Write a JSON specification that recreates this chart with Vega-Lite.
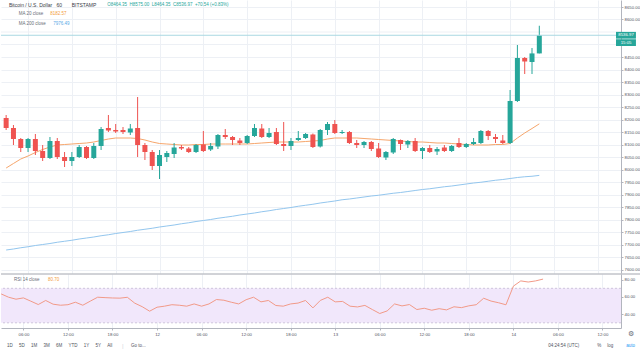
{
  "$schema": "https://vega.github.io/schema/vega-lite/v6.json",
  "padding": 0,
  "background": "white",
  "spacing": 0,
  "config": {
    "view": {"stroke": null},
    "font": "Liberation Sans",
    "axis": {"labelFont": "Liberation Sans", "labelFontSize": 4.3, "labelColor": "#50535e", "gridColor": "#edf0f5", "domainColor": "#b2b5be", "tickColor": "#b2b5be", "tickSize": 2, "labelPadding": 1, "labelOverlap": false, "labelFlush": false, "labelBound": false},
    "text": {"font": "Liberation Sans", "baseline": "middle", "align": "left"}
  },
  "datasets": {
    "bars": [
      {"t":"2020-01-11T03:00:00Z","open":8206,"high":8218,"low":8158,"close":8166,"ma20":8006,"ma200":7678,"rsi":63.5},
      {"t":"2020-01-11T04:00:00Z","open":8166,"high":8178,"low":8098,"close":8122,"ma20":8024,"ma200":7682,"rsi":59.7},
      {"t":"2020-01-11T05:00:00Z","open":8122,"high":8126,"low":8070,"close":8086,"ma20":8042,"ma200":7687,"rsi":57.4},
      {"t":"2020-01-11T06:00:00Z","open":8086,"high":8126,"low":8070,"close":8122,"ma20":8054,"ma200":7691,"rsi":58.9},
      {"t":"2020-01-11T07:00:00Z","open":8122,"high":8142,"low":8058,"close":8074,"ma20":8068,"ma200":7696,"rsi":55.1},
      {"t":"2020-01-11T08:00:00Z","open":8074,"high":8098,"low":8034,"close":8046,"ma20":8080,"ma200":7700,"rsi":51.2},
      {"t":"2020-01-11T09:00:00Z","open":8046,"high":8130,"low":8042,"close":8114,"ma20":8090,"ma200":7704,"rsi":55.9},
      {"t":"2020-01-11T10:00:00Z","open":8114,"high":8126,"low":8042,"close":8050,"ma20":8098,"ma200":7709,"rsi":51.6},
      {"t":"2020-01-11T11:00:00Z","open":8050,"high":8070,"low":8010,"close":8034,"ma20":8100,"ma200":7713,"rsi":50.4},
      {"t":"2020-01-11T12:00:00Z","open":8034,"high":8070,"low":8014,"close":8050,"ma20":8102,"ma200":7717,"rsi":51.0},
      {"t":"2020-01-11T13:00:00Z","open":8050,"high":8098,"low":8046,"close":8090,"ma20":8104,"ma200":7722,"rsi":53.9},
      {"t":"2020-01-11T14:00:00Z","open":8090,"high":8094,"low":8042,"close":8046,"ma20":8106,"ma200":7726,"rsi":50.4},
      {"t":"2020-01-11T15:00:00Z","open":8046,"high":8106,"low":8042,"close":8094,"ma20":8110,"ma200":7730,"rsi":55.1},
      {"t":"2020-01-11T16:00:00Z","open":8094,"high":8170,"low":8078,"close":8162,"ma20":8116,"ma200":7735,"rsi":59.7},
      {"t":"2020-01-11T17:00:00Z","open":8166,"high":8218,"low":8150,"close":8156,"ma20":8122,"ma200":7739,"rsi":59.2},
      {"t":"2020-01-11T18:00:00Z","open":8158,"high":8182,"low":8146,"close":8152,"ma20":8126,"ma200":7744,"rsi":58.8},
      {"t":"2020-01-11T19:00:00Z","open":8158,"high":8170,"low":8142,"close":8150,"ma20":8126,"ma200":7748,"rsi":58.6},
      {"t":"2020-01-11T20:00:00Z","open":8148,"high":8182,"low":8138,"close":8164,"ma20":8126,"ma200":7752,"rsi":59.6},
      {"t":"2020-01-11T21:00:00Z","open":8166,"high":8290,"low":8050,"close":8098,"ma20":8124,"ma200":7757,"rsi":52.8},
      {"t":"2020-01-11T22:00:00Z","open":8098,"high":8106,"low":8038,"close":8070,"ma20":8118,"ma200":7761,"rsi":48.7},
      {"t":"2020-01-11T23:00:00Z","open":8070,"high":8078,"low":7998,"close":8014,"ma20":8110,"ma200":7765,"rsi":43.5},
      {"t":"2020-01-12T00:00:00Z","open":8014,"high":8078,"low":7962,"close":8058,"ma20":8104,"ma200":7770,"rsi":48.1},
      {"t":"2020-01-12T01:00:00Z","open":8050,"high":8074,"low":8030,"close":8066,"ma20":8102,"ma200":7774,"rsi":49.3},
      {"t":"2020-01-12T02:00:00Z","open":8062,"high":8106,"low":8046,"close":8088,"ma20":8100,"ma200":7778,"rsi":51.0},
      {"t":"2020-01-12T03:00:00Z","open":8090,"high":8098,"low":8078,"close":8084,"ma20":8098,"ma200":7783,"rsi":50.4},
      {"t":"2020-01-12T04:00:00Z","open":8084,"high":8090,"low":8066,"close":8070,"ma20":8098,"ma200":7787,"rsi":49.3},
      {"t":"2020-01-12T05:00:00Z","open":8070,"high":8102,"low":8066,"close":8098,"ma20":8100,"ma200":7792,"rsi":51.9},
      {"t":"2020-01-12T06:00:00Z","open":8100,"high":8154,"low":8070,"close":8074,"ma20":8100,"ma200":7796,"rsi":49.3},
      {"t":"2020-01-12T07:00:00Z","open":8080,"high":8106,"low":8074,"close":8094,"ma20":8102,"ma200":7800,"rsi":51.9},
      {"t":"2020-01-12T08:00:00Z","open":8092,"high":8142,"low":8082,"close":8138,"ma20":8102,"ma200":7805,"rsi":57.0},
      {"t":"2020-01-12T09:00:00Z","open":8138,"high":8162,"low":8122,"close":8130,"ma20":8102,"ma200":7809,"rsi":56.2},
      {"t":"2020-01-12T10:00:00Z","open":8130,"high":8134,"low":8098,"close":8118,"ma20":8102,"ma200":7813,"rsi":53.9},
      {"t":"2020-01-12T11:00:00Z","open":8116,"high":8126,"low":8098,"close":8106,"ma20":8102,"ma200":7818,"rsi":51.9},
      {"t":"2020-01-12T12:00:00Z","open":8106,"high":8138,"low":8102,"close":8134,"ma20":8102,"ma200":7822,"rsi":56.8},
      {"t":"2020-01-12T13:00:00Z","open":8134,"high":8182,"low":8130,"close":8166,"ma20":8104,"ma200":7826,"rsi":59.7},
      {"t":"2020-01-12T14:00:00Z","open":8164,"high":8182,"low":8126,"close":8130,"ma20":8106,"ma200":7831,"rsi":54.3},
      {"t":"2020-01-12T15:00:00Z","open":8130,"high":8166,"low":8126,"close":8146,"ma20":8108,"ma200":7835,"rsi":55.9},
      {"t":"2020-01-12T16:00:00Z","open":8150,"high":8166,"low":8098,"close":8102,"ma20":8110,"ma200":7840,"rsi":50.1},
      {"t":"2020-01-12T17:00:00Z","open":8102,"high":8190,"low":8074,"close":8094,"ma20":8110,"ma200":7844,"rsi":49.3},
      {"t":"2020-01-12T18:00:00Z","open":8094,"high":8126,"low":8078,"close":8114,"ma20":8110,"ma200":7848,"rsi":51.9},
      {"t":"2020-01-12T19:00:00Z","open":8118,"high":8154,"low":8114,"close":8126,"ma20":8110,"ma200":7853,"rsi":52.9},
      {"t":"2020-01-12T20:00:00Z","open":8126,"high":8146,"low":8122,"close":8142,"ma20":8112,"ma200":7857,"rsi":55.9},
      {"t":"2020-01-12T21:00:00Z","open":8140,"high":8144,"low":8086,"close":8090,"ma20":8114,"ma200":7861,"rsi":47.3},
      {"t":"2020-01-12T22:00:00Z","open":8092,"high":8162,"low":8088,"close":8158,"ma20":8116,"ma200":7866,"rsi":56.0},
      {"t":"2020-01-12T23:00:00Z","open":8158,"high":8190,"low":8138,"close":8182,"ma20":8122,"ma200":7870,"rsi":59.7},
      {"t":"2020-01-13T00:00:00Z","open":8182,"high":8198,"low":8142,"close":8146,"ma20":8126,"ma200":7874,"rsi":54.3},
      {"t":"2020-01-13T01:00:00Z","open":8146,"high":8158,"low":8142,"close":8150,"ma20":8126,"ma200":7879,"rsi":54.8},
      {"t":"2020-01-13T02:00:00Z","open":8150,"high":8154,"low":8102,"close":8106,"ma20":8126,"ma200":7882,"rsi":49.3},
      {"t":"2020-01-13T03:00:00Z","open":8106,"high":8118,"low":8086,"close":8098,"ma20":8126,"ma200":7886,"rsi":48.4},
      {"t":"2020-01-13T04:00:00Z","open":8098,"high":8114,"low":8086,"close":8110,"ma20":8124,"ma200":7890,"rsi":50.2},
      {"t":"2020-01-13T05:00:00Z","open":8110,"high":8114,"low":8074,"close":8082,"ma20":8122,"ma200":7894,"rsi":45.4},
      {"t":"2020-01-13T06:00:00Z","open":8084,"high":8106,"low":8046,"close":8050,"ma20":8120,"ma200":7897,"rsi":40.8},
      {"t":"2020-01-13T07:00:00Z","open":8048,"high":8074,"low":8038,"close":8070,"ma20":8118,"ma200":7901,"rsi":43.8},
      {"t":"2020-01-13T08:00:00Z","open":8068,"high":8126,"low":8062,"close":8122,"ma20":8116,"ma200":7905,"rsi":51.9},
      {"t":"2020-01-13T09:00:00Z","open":8118,"high":8120,"low":8078,"close":8102,"ma20":8114,"ma200":7908,"rsi":49.6},
      {"t":"2020-01-13T10:00:00Z","open":8100,"high":8118,"low":8086,"close":8114,"ma20":8112,"ma200":7912,"rsi":51.2},
      {"t":"2020-01-13T11:00:00Z","open":8114,"high":8126,"low":8070,"close":8074,"ma20":8110,"ma200":7916,"rsi":45.4},
      {"t":"2020-01-13T12:00:00Z","open":8074,"high":8090,"low":8042,"close":8086,"ma20":8110,"ma200":7920,"rsi":46.9},
      {"t":"2020-01-13T13:00:00Z","open":8086,"high":8098,"low":8066,"close":8070,"ma20":8108,"ma200":7923,"rsi":44.6},
      {"t":"2020-01-13T14:00:00Z","open":8072,"high":8090,"low":8058,"close":8082,"ma20":8106,"ma200":7927,"rsi":46.4},
      {"t":"2020-01-13T15:00:00Z","open":8088,"high":8098,"low":8070,"close":8074,"ma20":8106,"ma200":7931,"rsi":45.0},
      {"t":"2020-01-13T16:00:00Z","open":8074,"high":8098,"low":8070,"close":8094,"ma20":8104,"ma200":7934,"rsi":48.6},
      {"t":"2020-01-13T17:00:00Z","open":8106,"high":8126,"low":8086,"close":8090,"ma20":8102,"ma200":7938,"rsi":47.6},
      {"t":"2020-01-13T18:00:00Z","open":8090,"high":8106,"low":8086,"close":8102,"ma20":8100,"ma200":7942,"rsi":49.7},
      {"t":"2020-01-13T19:00:00Z","open":8102,"high":8126,"low":8098,"close":8110,"ma20":8098,"ma200":7946,"rsi":51.0},
      {"t":"2020-01-13T20:00:00Z","open":8106,"high":8158,"low":8102,"close":8154,"ma20":8098,"ma200":7949,"rsi":58.5},
      {"t":"2020-01-13T21:00:00Z","open":8154,"high":8158,"low":8118,"close":8134,"ma20":8098,"ma200":7953,"rsi":55.2},
      {"t":"2020-01-13T22:00:00Z","open":8130,"high":8142,"low":8106,"close":8122,"ma20":8100,"ma200":7957,"rsi":53.3},
      {"t":"2020-01-13T23:00:00Z","open":8116,"high":8138,"low":8102,"close":8106,"ma20":8100,"ma200":7960,"rsi":50.9},
      {"t":"2020-01-14T00:00:00Z","open":8106,"high":8318,"low":8102,"close":8274,"ma20":8104,"ma200":7964,"rsi":72.5},
      {"t":"2020-01-14T01:00:00Z","open":8274,"high":8498,"low":8270,"close":8446,"ma20":8126,"ma200":7968,"rsi":78.6},
      {"t":"2020-01-14T02:00:00Z","open":8446,"high":8450,"low":8382,"close":8432,"ma20":8146,"ma200":7971,"rsi":77.3},
      {"t":"2020-01-14T03:00:00Z","open":8430,"high":8486,"low":8382,"close":8464.35,"ma20":8164,"ma200":7973,"rsi":78.6},
      {"t":"2020-01-14T04:00:00Z","open":8464.35,"high":8575,"low":8464.35,"close":8536.97,"ma20":8182.57,"ma200":7976.49,"rsi":80.7}
    ]
  },
  "vconcat": [
    {
      "width": 620,
      "height": 273,
      "data": {"name": "bars"},
      "layer": [
        {
          "mark": {"type": "line", "color": "#93c6ee", "strokeWidth": 1, "clip": true},
          "encoding": {
            "x": {"field": "t", "type": "temporal", "title": null, "scale": {"type": "utc", "domain": [1578711528000, 1579012200000]},
              "axis": {"values": [1578722400000,1578744000000,1578765600000,1578787200000,1578808800000,1578830400000,1578852000000,1578873600000,1578895200000,1578916800000,1578938400000,1578960000000,1578981600000,1579003200000], "tickCount": 100, "labels": false, "ticks": false, "domain": false, "grid": true}},
            "y": {"field": "ma200", "type": "quantitative", "title": null, "scale": {"domain": [7586, 8678], "zero": false, "nice": false},
              "axis": {"orient": "right", "values": [7600,7650,7700,7750,7800,7850,7900,7950,8000,8050,8100,8150,8200,8250,8300,8350,8400,8450,8600,8650], "tickCount": 100, "format": ".2f", "grid": true, "labelOverlap": false}}
          }
        },
        {
          "data": {"values": [{"g": 8500}, {"g": 8550}]},
          "mark": {"type": "rule", "color": "#edf0f5", "strokeWidth": 1},
          "encoding": {"y": {"field": "g", "type": "quantitative", "title": null}}
        },
        {
          "mark": {"type": "line", "color": "#f6a66c", "strokeWidth": 1, "clip": true},
          "encoding": {
            "x": {"field": "t", "type": "temporal", "title": null},
            "y": {"field": "ma20", "type": "quantitative", "title": null}
          }
        },
        {
          "mark": {"type": "rule", "strokeWidth": 1, "clip": true},
          "encoding": {
            "x": {"field": "t", "type": "temporal", "title": null},
            "y": {"field": "low", "type": "quantitative", "title": null},
            "y2": {"field": "high"},
            "color": {"condition": {"test": "datum.close >= datum.open", "value": "#26a69a"}, "value": "#ef5350"}
          }
        },
        {
          "mark": {"type": "bar", "width": 5, "clip": true},
          "encoding": {
            "x": {"field": "t", "type": "temporal", "title": null},
            "y": {"field": "open", "type": "quantitative", "title": null},
            "y2": {"field": "close"},
            "color": {"condition": {"test": "datum.close >= datum.open", "value": "#26a69a"}, "value": "#ef5350"}
          }
        },
        {
          "data": {"values": [{}]},
          "mark": {"type": "rule", "color": "#a9d8e2", "strokeWidth": 1},
          "encoding": {"y": {"datum": 8536.97, "type": "quantitative", "title": null}}
        },
        {
          "data": {"values": [{}]},
          "mark": {"type": "rect", "color": "#26a69a", "clip": false},
          "encoding": {
            "x": {"datum": 1579012200000, "type": "temporal", "title": null},
            "x2": {"datum": 1579022028000},
            "y": {"datum": 8550.5, "type": "quantitative", "title": null},
            "y2": {"datum": 8523.5}
          }
        },
        {
          "data": {"values": [{}]},
          "mark": {"type": "rect", "color": "#26a69a", "clip": false},
          "encoding": {
            "x": {"datum": 1579012200000, "type": "temporal", "title": null},
            "x2": {"datum": 1579022028000},
            "y": {"datum": 8521, "type": "quantitative", "title": null},
            "y2": {"datum": 8494}
          }
        },
        {
          "data": {"values": [{"label": "8536.97"}]},
          "mark": {"type": "text", "color": "white", "fontSize": 4.3, "align": "center", "clip": false},
          "encoding": {
            "x": {"datum": 1579017172000, "type": "temporal", "title": null},
            "y": {"datum": 8536.97, "type": "quantitative", "title": null},
            "text": {"field": "label"}
          }
        },
        {
          "data": {"values": [{"label": "15:05"}]},
          "mark": {"type": "text", "color": "white", "fontSize": 4.3, "align": "center", "clip": false},
          "encoding": {
            "x": {"datum": 1579017172000, "type": "temporal", "title": null},
            "y": {"datum": 8507.5, "type": "quantitative", "title": null},
            "text": {"field": "label"}
          }
        },
        {
          "data": {"values": [{"label": "Bitcoin / U.S. Dollar\u00a0\u00a0\u00a060\u00a0\u00a0\u00a0\u00a0\u00a0\u00a0\u00a0BITSTAMP"}]},
          "mark": {"type": "text", "color": "#3a3d46", "fontSize": 5},
          "encoding": {
            "x": {"datum": 1578712968000, "type": "temporal", "title": null},
            "y": {"datum": 8658, "type": "quantitative", "title": null},
            "text": {"field": "label"}
          }
        },
        {
          "data": {"values": [{"label": "O8464.35\u00a0\u00a0H8575.00\u00a0\u00a0L8464.35\u00a0\u00a0C8536.97\u00a0\u00a0+70.54 (+0.83%)"}]},
          "mark": {"type": "text", "color": "#26a69a", "fontSize": 4.5},
          "encoding": {
            "x": {"datum": 1578761486000, "type": "temporal", "title": null},
            "y": {"datum": 8658, "type": "quantitative", "title": null},
            "text": {"field": "label"}
          }
        },
        {
          "data": {"values": [{"label": "MA 20 close"}]},
          "mark": {"type": "text", "color": "#6a6d78", "fontSize": 4.5},
          "encoding": {
            "x": {"datum": 1578717820000, "type": "temporal", "title": null},
            "y": {"datum": 8622, "type": "quantitative", "title": null},
            "text": {"field": "label"}
          }
        },
        {
          "data": {"values": [{"label": "8182.57"}]},
          "mark": {"type": "text", "color": "#f39c3c", "fontSize": 4.5},
          "encoding": {
            "x": {"datum": 1578733345000, "type": "temporal", "title": null},
            "y": {"datum": 8622, "type": "quantitative", "title": null},
            "text": {"field": "label"}
          }
        },
        {
          "data": {"values": [{"label": "MA 200 close"}]},
          "mark": {"type": "text", "color": "#6a6d78", "fontSize": 4.5},
          "encoding": {
            "x": {"datum": 1578717820000, "type": "temporal", "title": null},
            "y": {"datum": 8582, "type": "quantitative", "title": null},
            "text": {"field": "label"}
          }
        },
        {
          "data": {"values": [{"label": "7976.49"}]},
          "mark": {"type": "text", "color": "#5aa9e6", "fontSize": 4.5},
          "encoding": {
            "x": {"datum": 1578734801000, "type": "temporal", "title": null},
            "y": {"datum": 8582, "type": "quantitative", "title": null},
            "text": {"field": "label"}
          }
        }
      ]
    },
    {
      "width": 620,
      "height": 54,
      "data": {"name": "bars"},
      "layer": [
        {
          "data": {"values": [{}]},
          "mark": {"type": "rect", "color": "#f1e7fb"},
          "encoding": {
            "x": {"datum": 1578711528000, "type": "temporal", "title": null, "scale": {"type": "utc", "domain": [1578711528000, 1579012200000]},
              "axis": {"values": [1578722400000,1578744000000,1578765600000,1578787200000,1578808800000,1578830400000,1578852000000,1578873600000,1578895200000,1578916800000,1578938400000,1578960000000,1578981600000,1579003200000], "tickCount": 100, "grid": true, "labelPadding": 2, "labelOverlap": false, "labelExpr": "utchours(datum.value) == 0 ? utcFormat(datum.value, '%-d') : utcFormat(datum.value, '%H:%M')"}},
            "x2": {"datum": 1579012200000},
            "y": {"datum": 70, "type": "quantitative", "title": null, "scale": {"domain": [24, 86.6], "zero": false, "nice": false},
              "axis": {"orient": "right", "values": [40, 60, 80], "tickCount": 100, "format": ".2f", "grid": false, "labelOverlap": false}},
            "y2": {"datum": 30}
          }
        },
        {
          "data": {"values": [{"v": 70}, {"v": 30}]},
          "mark": {"type": "rule", "color": "#c4bad3", "strokeDash": [2, 2], "strokeWidth": 0.8},
          "encoding": {"y": {"field": "v", "type": "quantitative", "title": null}}
        },
        {
          "mark": {"type": "line", "color": "#f29a88", "strokeWidth": 1, "clip": true},
          "encoding": {
            "x": {"field": "t", "type": "temporal", "title": null},
            "y": {"field": "rsi", "type": "quantitative", "title": null}
          }
        },
        {
          "data": {"values": [{}]},
          "mark": {"type": "rule", "color": "#a3a6af", "strokeWidth": 1, "clip": false},
          "encoding": {
            "x": {"datum": 1578711528000, "type": "temporal", "title": null},
            "x2": {"datum": 1579022028000},
            "y": {"datum": 86.6, "type": "quantitative", "title": null}
          }
        },
        {
          "data": {"values": [{"label": "RSI 14 close"}]},
          "mark": {"type": "text", "color": "#6a6d78", "fontSize": 4.5},
          "encoding": {
            "x": {"datum": 1578717820000, "type": "temporal", "title": null},
            "y": {"datum": 79.6, "type": "quantitative", "title": null},
            "text": {"field": "label"}
          }
        },
        {
          "data": {"values": [{"label": "80.70"}]},
          "mark": {"type": "text", "color": "#f39c3c", "fontSize": 4.5},
          "encoding": {
            "x": {"datum": 1578734316000, "type": "temporal", "title": null},
            "y": {"datum": 79.6, "type": "quantitative", "title": null},
            "text": {"field": "label"}
          }
        },
        {
          "data": {"values": [{"label": "⚙"}]},
          "mark": {"type": "text", "color": "#6a6d78", "fontSize": 7, "align": "center", "clip": false},
          "encoding": {
            "x": {"datum": 1579017172000, "type": "temporal", "title": null},
            "y": {"datum": 17.0, "type": "quantitative", "title": null},
            "text": {"field": "label"}
          }
        },
        {
          "data": {"values": [{"label": "1D\u00a0\u00a0\u00a0\u00a0\u00a05D\u00a0\u00a0\u00a0\u00a0\u00a01M\u00a0\u00a0\u00a0\u00a0\u00a03M\u00a0\u00a0\u00a0\u00a0\u00a06M\u00a0\u00a0\u00a0\u00a0\u00a0YTD\u00a0\u00a0\u00a0\u00a0\u00a01Y\u00a0\u00a0\u00a0\u00a0\u00a05Y\u00a0\u00a0\u00a0\u00a0\u00a0All"}]},
          "mark": {"type": "text", "color": "#50535e", "fontSize": 4.5, "clip": false},
          "encoding": {
            "x": {"datum": 1578714423000, "type": "temporal", "title": null},
            "y": {"datum": 3.1, "type": "quantitative", "title": null},
            "text": {"field": "label"}
          }
        },
        {
          "data": {"values": [{"label": "|"}]},
          "mark": {"type": "text", "color": "#d1d4dc", "fontSize": 6, "clip": false},
          "encoding": {
            "x": {"datum": 1578770219000, "type": "temporal", "title": null},
            "y": {"datum": 3.1, "type": "quantitative", "title": null},
            "text": {"field": "label"}
          }
        },
        {
          "data": {"values": [{"label": "Go to..."}]},
          "mark": {"type": "text", "color": "#50535e", "fontSize": 4.5, "clip": false},
          "encoding": {
            "x": {"datum": 1578774586000, "type": "temporal", "title": null},
            "y": {"datum": 3.1, "type": "quantitative", "title": null},
            "text": {"field": "label"}
          }
        },
        {
          "data": {"values": [{"label": "04:24:54 (UTC)"}]},
          "mark": {"type": "text", "color": "#50535e", "fontSize": 4.5, "clip": false},
          "encoding": {
            "x": {"datum": 1578976903000, "type": "temporal", "title": null},
            "y": {"datum": 3.1, "type": "quantitative", "title": null},
            "text": {"field": "label"}
          }
        },
        {
          "data": {"values": [{"label": "%"}]},
          "mark": {"type": "text", "color": "#50535e", "fontSize": 4.5, "clip": false},
          "encoding": {
            "x": {"datum": 1579000677000, "type": "temporal", "title": null},
            "y": {"datum": 3.1, "type": "quantitative", "title": null},
            "text": {"field": "label"}
          }
        },
        {
          "data": {"values": [{"label": "log"}]},
          "mark": {"type": "text", "color": "#50535e", "fontSize": 4.5, "clip": false},
          "encoding": {
            "x": {"datum": 1579005529000, "type": "temporal", "title": null},
            "y": {"datum": 3.1, "type": "quantitative", "title": null},
            "text": {"field": "label"}
          }
        },
        {
          "data": {"values": [{"label": "auto"}]},
          "mark": {"type": "text", "color": "#2196f3", "fontSize": 4.5, "clip": false},
          "encoding": {
            "x": {"datum": 1579014747000, "type": "temporal", "title": null},
            "y": {"datum": 3.1, "type": "quantitative", "title": null},
            "text": {"field": "label"}
          }
        }
      ]
    }
  ]
}
